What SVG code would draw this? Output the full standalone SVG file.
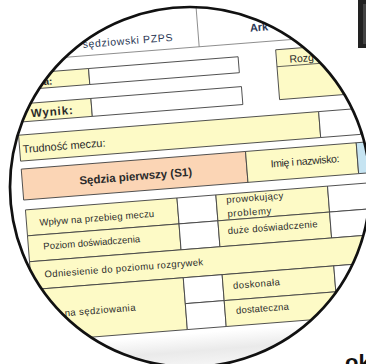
<svg xmlns="http://www.w3.org/2000/svg" width="366" height="364" viewBox="0 0 366 364">
<style>
.y{fill:#fdfac6;stroke:#444;stroke-width:0.9}
.w{fill:#fff;stroke:#444;stroke-width:0.9}
.o{fill:#fbd5b5;stroke:#444;stroke-width:0.9}
.b{fill:#c6e4f2;stroke:#444;stroke-width:0.9}
.g{stroke:#777;stroke-width:0.8;fill:none}
.t{font-family:"Liberation Sans",Arial,sans-serif;fill:#2a2a2a;font-size:9.5px}
.h{font-weight:bold}
</style>
<defs>
<clipPath id="lens"><circle cx="190" cy="187" r="180"/></clipPath>
<linearGradient id="sh" x1="0" y1="0" x2="0" y2="1">
<stop offset="0" stop-color="#ffffff"/><stop offset="0.45" stop-color="#eaeaea"/><stop offset="1" stop-color="#fafafa"/>
</linearGradient>
</defs>
<rect width="366" height="364" fill="#fff"/>
<g id="lens-view" clip-path="url(#lens)">
<g transform="rotate(-4.5 189 185)">
<rect x="-20" y="333" width="440" height="40" fill="url(#sh)"/>
<g id="title-row">
<line class="g" x1="-20" y1="48" x2="420" y2="48"/>
<line class="g" x1="210" y1="0" x2="210" y2="48"/>
<text class="t" x="94" y="40" style="font-size:10.5px;fill:#2b3855" textLength="90">sędziowski  PZPS</text>
<text class="t h" x="262" y="37" style="font-size:11px;fill:#2b3855">Ark</text>
</g>
<g id="row-data">
<rect class="y" x="10" y="61" width="88" height="16"/>
<rect class="w" x="98" y="61" width="150" height="16"/>
<text class="t h" x="52" y="74" style="font-size:10px">a:</text>
</g>
<g id="row-wynik">
<rect class="y" x="10" y="91" width="88" height="18"/>
<rect class="w" x="98" y="91" width="151" height="18"/>
<text class="t h" x="37" y="105" style="font-size:11.5px" textLength="42">Wynik:</text>
</g>
<g id="rozg">
<rect class="y" x="286" y="57" width="130" height="50"/>
<line class="g" x1="286" y1="74" x2="416" y2="74" style="stroke:#444"/>
<text class="t" x="299" y="71" style="font-size:10.5px">Rozg</text>
</g>
<g id="row-trudnosc">
<rect class="y" x="23" y="122" width="301" height="26"/>
<rect class="w" x="324" y="122" width="40" height="26"/>
<text class="t" x="26" y="140" style="font-size:11px" textLength="83">Trudność meczu:</text>
</g>
<g id="header-s1">
<rect class="o" x="23" y="156" width="225" height="31"/>
<text class="t h" x="80" y="176" style="font-size:11.5px" textLength="113">Sędzia pierwszy  (S1)</text>
<rect class="y" x="248" y="156" width="111" height="31"/>
<text class="t" x="272" y="174" style="font-size:10.5px" textLength="69">Imię i nazwisko:</text>
<rect class="b" x="359" y="156" width="50" height="31"/>
</g>
<g id="row-wplyw">
<rect class="y" x="24" y="197" width="152" height="26"/>
<rect class="w" x="176" y="197" width="39" height="26"/>
<rect class="y" x="215" y="197" width="112" height="26"/>
<rect class="w" x="327" y="197" width="40" height="26"/>
<text class="t" x="37" y="214" textLength="115">Wpływ na przebieg meczu</text>
<text class="t" x="225" y="206" textLength="57">prowokujący</text>
<text class="t" x="225" y="220" textLength="44">problemy</text>
</g>
<g id="row-poziom">
<rect class="y" x="24" y="223" width="152" height="26"/>
<rect class="w" x="176" y="223" width="39" height="26"/>
<rect class="y" x="215" y="223" width="112" height="26"/>
<rect class="w" x="327" y="223" width="40" height="26"/>
<text class="t" x="39" y="238" textLength="97">Poziom doświadczenia</text>
<text class="t" x="224" y="237" textLength="90">duże doświadczenie</text>
</g>
<g id="row-odniesienie">
<rect class="y" x="24" y="249" width="390" height="28"/>
<text class="t" x="38" y="266" textLength="159">Odniesienie do poziomu rozgrywek</text>
</g>
<g id="row-ocena">
<rect class="y" x="24" y="277" width="152" height="52"/>
<rect class="w" x="176" y="277" width="39" height="26"/>
<rect class="w" x="176" y="303" width="39" height="26"/>
<rect class="y" x="215" y="277" width="112" height="26"/>
<rect class="y" x="215" y="303" width="112" height="26"/>
<rect class="w" x="327" y="277" width="40" height="26"/>
<rect class="w" x="327" y="303" width="40" height="26"/>
<text class="t" x="55" y="306" textLength="71">na sędziowania</text>
<text class="t" x="225" y="292" textLength="47">doskonała</text>
<text class="t" x="226" y="317" textLength="53">dostateczna</text>
</g>
</g>
</g>
<circle id="lens-rim" cx="190" cy="187" r="180" fill="none" stroke="#111" stroke-width="2.7"/>
<g id="bracket">
<rect x="358" y="0" width="8" height="48" fill="#222"/>
<rect x="363" y="4" width="3" height="40" fill="#444"/>
</g>
<text x="345" y="370" font-family="Liberation Sans, Arial, sans-serif" font-weight="bold" font-size="22" fill="#111">ok</text>
</svg>
